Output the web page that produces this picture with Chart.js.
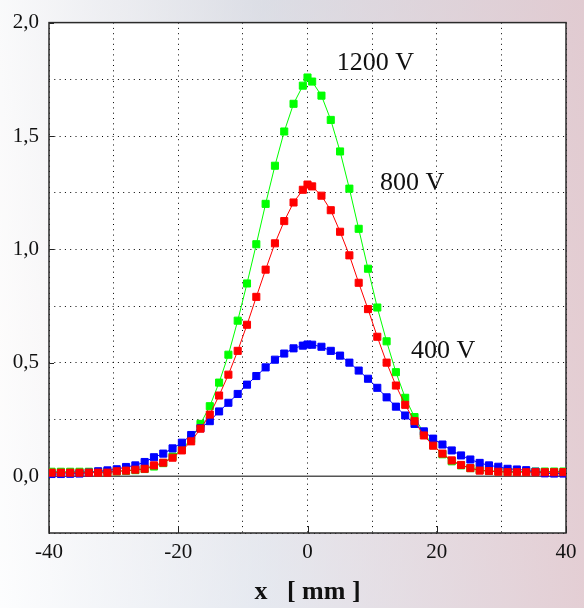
<!DOCTYPE html>
<html>
<head>
<meta charset="utf-8">
<script src="https://cdn.jsdelivr.net/npm/chart.js@4.4.1/dist/chart.umd.min.js"></script>
<style>
    html, body {
        margin: 0;
        padding: 0;
    }
    body {
        width: 584px;
        height: 608px;
        overflow: hidden;
        background:
            linear-gradient(90deg, rgba(255,255,255,0.85) 0%, rgba(222,224,232,0.5) 45%, rgba(226,200,206,0.85) 100%),
            linear-gradient(180deg, #d9dbe2 0%, #efe9ea 55%, #edf2f8 100%);
    }
    #wrap {
        position: relative;
        width: 584px;
        height: 608px;
    }
</style>
</head>
<body>
<div id="wrap"><canvas id="profileChart"></canvas></div>
<script>
// x positions of the measured points (mm)
const xMm = [
    -39.6, -38.16, -36.72, -35.28, -33.84, -32.4, -30.96, -29.52, -28.08, -26.64,
    -25.2, -23.76, -22.32, -20.88, -19.44, -18.0, -16.56, -15.12, -13.68, -12.24,
    -10.8, -9.36, -7.92, -6.48, -5.04, -3.6, -2.16, -0.72, 0, 0.72,
    2.16, 3.6, 5.04, 6.48, 7.92, 9.36, 10.8, 12.24, 13.68, 15.12,
    16.56, 18.0, 19.44, 20.88, 22.32, 23.76, 25.2, 26.64, 28.08, 29.52,
    30.96, 32.4, 33.84, 35.28, 36.72, 38.16, 39.6
];

const v1200 = [
    0.020, 0.020, 0.020, 0.020, 0.020, 0.020, 0.020, 0.022, 0.024, 0.027,
    0.032, 0.043, 0.058, 0.087, 0.118, 0.165, 0.231, 0.309, 0.413, 0.536,
    0.686, 0.850, 1.023, 1.201, 1.369, 1.520, 1.642, 1.722, 1.758, 1.740,
    1.678, 1.571, 1.432, 1.268, 1.091, 0.915, 0.744, 0.595, 0.459, 0.346,
    0.261, 0.190, 0.137, 0.097, 0.066, 0.048, 0.036, 0.028, 0.024, 0.022,
    0.021, 0.021, 0.021, 0.021, 0.021, 0.021, 0.021
];

const v800 = [
    0.016, 0.016, 0.016, 0.016, 0.016, 0.016, 0.016, 0.022, 0.025, 0.029,
    0.033, 0.048, 0.060, 0.082, 0.114, 0.154, 0.210, 0.272, 0.356, 0.448,
    0.553, 0.668, 0.791, 0.911, 1.027, 1.125, 1.207, 1.263, 1.286, 1.278,
    1.237, 1.173, 1.078, 0.974, 0.853, 0.737, 0.615, 0.501, 0.400, 0.315,
    0.243, 0.180, 0.135, 0.100, 0.070, 0.050, 0.036, 0.025, 0.023, 0.020,
    0.018, 0.018, 0.018, 0.018, 0.018, 0.018, 0.018
];

const v400 = [
    0.010, 0.010, 0.011, 0.012, 0.016, 0.022, 0.026, 0.031, 0.041, 0.048,
    0.063, 0.084, 0.100, 0.123, 0.148, 0.182, 0.212, 0.243, 0.286, 0.324,
    0.363, 0.404, 0.442, 0.480, 0.514, 0.541, 0.564, 0.576, 0.581, 0.580,
    0.571, 0.553, 0.532, 0.501, 0.466, 0.430, 0.390, 0.348, 0.307, 0.268,
    0.231, 0.198, 0.166, 0.140, 0.114, 0.092, 0.074, 0.059, 0.048, 0.042,
    0.033, 0.030, 0.027, 0.020, 0.013, 0.012, 0.012
];

// curve labels, in data units
const curveLabels = [
    { text: '1200 V', x: 10.5, y: 1.82 },
    { text: '800 V', x: 16.2, y: 1.29 },
    { text: '400 V', x: 21.0, y: 0.55 }
];

function toPoints(ys) {
    return xMm.map((x, i) => ({ x: x, y: ys[i] }));
}

function series(label, ys, color, order) {
    return {
        label: label,
        data: toPoints(ys),
        borderColor: color,
        backgroundColor: color,
        borderWidth: 1,
        pointStyle: 'rect',
        pointRadius: 5,
        pointBorderWidth: 1,
        pointBorderColor: color,
        pointBackgroundColor: color,
        tension: 0,
        order: order
    };
}

const serif = "'Liberation Serif', 'DejaVu Serif', serif";
const isLabelled = (v, step) => Math.abs(Math.round(v / step) * step - v) < 1e-6;

// white plot area, frame, zero line, small inner ticks and curve labels
const framePlugin = {
    id: 'frame',
    beforeDraw(chart) {
        const a = chart.chartArea;
        const ctx = chart.ctx;
        ctx.save();
        ctx.fillStyle = '#ffffff';
        ctx.fillRect(a.left, a.top, a.right - a.left, a.bottom - a.top);
        ctx.restore();
    },
    beforeDatasetsDraw(chart) {
        const a = chart.chartArea;
        const ctx = chart.ctx;
        const xs = chart.scales.x;
        const ys = chart.scales.y;
        ctx.save();
        // zero line
        const y0 = ys.getPixelForValue(0);
        ctx.strokeStyle = '#555555';
        ctx.lineWidth = 1.5;
        ctx.beginPath();
        ctx.moveTo(a.left, y0);
        ctx.lineTo(a.right, y0);
        ctx.stroke();
        // inner ticks
        ctx.strokeStyle = '#222222';
        ctx.lineWidth = 1;
        xs.ticks.forEach(t => {
            if (!isLabelled(t.value, 20)) return;
            const px = Math.round(xs.getPixelForValue(t.value)) + 0.5;
            ctx.beginPath();
            ctx.moveTo(px, a.bottom);
            ctx.lineTo(px, a.bottom - 7);
            ctx.stroke();
        });
        ys.ticks.forEach(t => {
            if (!isLabelled(t.value, 0.5)) return;
            const py = Math.round(ys.getPixelForValue(t.value)) + 0.5;
            ctx.beginPath();
            ctx.moveTo(a.left, py);
            ctx.lineTo(a.left + 5, py);
            ctx.stroke();
        });
        // frame
        ctx.strokeStyle = '#2a2a2a';
        ctx.lineWidth = 1.5;
        ctx.strokeRect(a.left, a.top, a.right - a.left, a.bottom - a.top);
        ctx.restore();
    },
    afterDatasetsDraw(chart) {
        const ctx = chart.ctx;
        const xs = chart.scales.x;
        const ys = chart.scales.y;
        ctx.save();
        ctx.font = '26px ' + serif;
        ctx.fillStyle = '#111111';
        ctx.textAlign = 'center';
        ctx.textBaseline = 'middle';
        curveLabels.forEach(l => {
            ctx.fillText(l.text, xs.getPixelForValue(l.x), ys.getPixelForValue(l.y));
        });
        ctx.restore();
    }
};

new Chart(document.getElementById('profileChart'), {
    type: 'line',
    data: {
        datasets: [
            series('1200 V', v1200, '#00ff00', 3),
            series('400 V', v400, '#0000ff', 2),
            series('800 V', v800, '#ff0000', 1)
        ]
    },
    options: {
        responsive: true,
        maintainAspectRatio: false,
        animation: false,
        layout: { padding: { top: 21, right: 18, left: 0, bottom: 0 } },
        plugins: {
            legend: { display: false },
            tooltip: { enabled: false }
        },
        scales: {
            x: {
                type: 'linear',
                min: -40,
                max: 40,
                afterFit: scale => { scale.height = 75; },
                ticks: {
                    stepSize: 10,
                    padding: 7,
                    maxRotation: 0,
                    autoSkip: false,
                    color: '#111111',
                    font: { family: serif, size: 21 },
                    callback: v => isLabelled(v, 20) ? String(v) : ''
                },
                grid: {
                    color: '#000000',
                    lineWidth: 1,
                    drawTicks: false
                },
                border: { display: false, dash: [1, 4.3] },
                title: {
                    display: true,
                    text: 'x   [ mm ]',
                    color: '#111111',
                    font: { family: serif, size: 26, weight: 'bold' },
                    padding: { top: 0, bottom: 0 }
                }
            },
            y: {
                type: 'linear',
                min: -0.25,
                max: 2.0,
                afterFit: scale => { scale.width = 49; },
                ticks: {
                    stepSize: 0.25,
                    padding: 10,
                    autoSkip: false,
                    color: '#111111',
                    font: { family: serif, size: 21 },
                    callback: v => isLabelled(v, 0.5) ? v.toFixed(1).replace('.', ',') : ''
                },
                grid: {
                    color: ctx => (ctx.tick && Math.abs(ctx.tick.value) < 1e-9) ? 'rgba(0,0,0,0)' : '#000000',
                    lineWidth: 1,
                    drawTicks: false
                },
                border: { display: false, dash: [1, 4.3] }
            }
        }
    },
    plugins: [framePlugin]
});
</script>
</body>
</html>
